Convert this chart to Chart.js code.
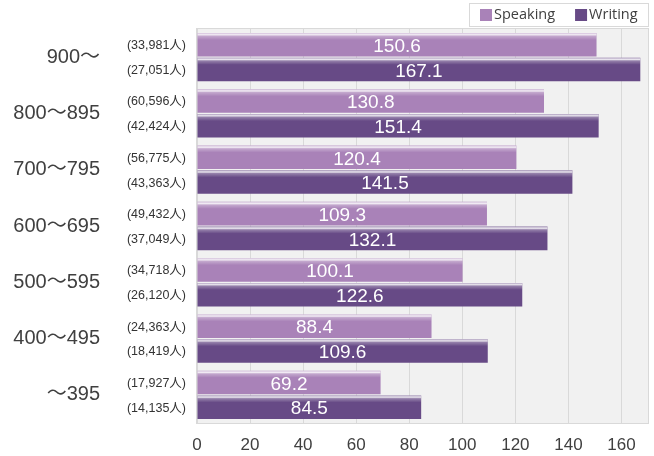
<!DOCTYPE html>
<html>
<head>
<meta charset="utf-8">
<script src="https://cdn.jsdelivr.net/npm/chart.js@4/dist/chart.umd.min.js"></script>
<style>
  html, body { margin: 0; padding: 0; background: #fff; }
  #wrap { width: 654px; height: 456px; }
</style>
</head>
<body>
<div id="wrap"><canvas id="chart_1" width="654" height="456"></canvas></div>
<script>
const categories = ["900～", "800～895", "700～795", "600～695", "500～595", "400～495", "～395"]
const speaking = [150.6, 130.8, 120.4, 109.3, 100.1, 88.4, 69.2]
const writing = [167.1, 151.4, 141.5, 132.1, 122.6, 109.6, 84.5]
const speaking_n = ["33,981", "60,596", "56,775", "49,432", "34,718", "24,363", "17,927"]
const writing_n = ["27,051", "42,424", "43,363", "37,049", "26,120", "18,419", "14,135"]
const counts = [speaking_n, writing_n]
const x_ticks = [0, 20, 40, 60, 80, 100, 120, 140, 160]

const font_main = "'Liberation Sans', Arial, 'Noto Sans CJK JP', sans-serif"
const font_legend = "'Open Sans', 'Noto Sans', sans-serif"

// plot background, border, bar highlight and labels
const deco = {
    id: "deco",
    beforeDraw(chart){
        const {ctx, chartArea: a} = chart
        ctx.save()
        ctx.fillStyle = "#f1f1f1"
        ctx.fillRect(a.left, a.top, a.right - a.left, a.bottom - a.top)
        ctx.restore()
    },
    afterDatasetsDraw(chart){
        const {ctx, chartArea: a} = chart
        ctx.save()
        ctx.strokeStyle = "#d9d9d9"
        ctx.lineWidth = 1
        ctx.strokeRect(a.left - 0.5, a.top - 0.5, a.right - a.left + 1, a.bottom - a.top + 1)

        chart.data.datasets.forEach((ds, di) => {
            const meta = chart.getDatasetMeta(di)
            meta.data.forEach((bar, i) => {
                const top = bar.y - bar.height / 2
                const left = Math.min(bar.x, bar.base)
                const w = Math.abs(bar.x - bar.base)
                // glossy top stripe
                const g = ctx.createLinearGradient(0, top, 0, top + 7)
                g.addColorStop(0, "rgba(255,255,255,0.5)")
                g.addColorStop(0.25, "rgba(255,255,255,0.85)")
                g.addColorStop(0.45, "rgba(255,255,255,0.3)")
                g.addColorStop(1, "rgba(255,255,255,0)")
                ctx.fillStyle = g
                ctx.fillRect(left, top, w, 7)

                // value inside bar
                ctx.fillStyle = "#ffffff"
                ctx.font = "19px " + font_main
                ctx.textAlign = "center"
                ctx.textBaseline = "middle"
                ctx.fillText(ds.data[i].toFixed(1), (bar.x + bar.base) / 2, bar.y + 2)

                // head count beside axis
                ctx.fillStyle = "#333333"
                ctx.font = "12.5px " + font_main
                ctx.textAlign = "right"
                ctx.fillText("(" + counts[di][i] + "人)", a.left - 11, bar.y + 1)
            })
        })

        // legend
        const lx = 469, ly = 3, lw = 179, lh = 23
        ctx.fillStyle = "#ffffff"
        ctx.fillRect(lx, ly, lw, lh)
        ctx.strokeStyle = "#d9d9d9"
        ctx.strokeRect(lx + 0.5, ly + 0.5, lw, lh)
        ctx.font = "14.5px " + font_legend
        ctx.textAlign = "left"
        ctx.textBaseline = "middle"
        let x = lx + 11
        chart.data.datasets.forEach(ds => {
            ctx.fillStyle = ds.backgroundColor
            ctx.fillRect(x, ly + 6, 12, 12)
            ctx.fillStyle = "#404040"
            ctx.fillText(ds.label, x + 14, ly + 12)
            x += 14 + ctx.measureText(ds.label).width + 20
        })
        ctx.restore()
    }
}

const ctx_1 = document.getElementById("chart_1").getContext("2d")
const chart_1 = new Chart(ctx_1, {
    type: "bar",
    data: {
        labels: categories,
        datasets: [
            {
                label: "Speaking",
                data: speaking,
                backgroundColor: "#a982b8",
                categoryPercentage: 0.88,
                barPercentage: 0.95
            },
            {
                label: "Writing",
                data: writing,
                backgroundColor: "#674a86",
                categoryPercentage: 0.88,
                barPercentage: 0.95
            }
        ]
    },
    options: {
        indexAxis: "y",
        responsive: false,
        animation: false,
        layout: { padding: { top: 29, right: 6, left: 0, bottom: 0 } },
        plugins: {
            legend: { display: false },
            tooltip: { enabled: false }
        },
        scales: {
            x: {
                min: 0,
                max: 170,
                afterBuildTicks(scale){ scale.ticks = x_ticks.map(v => ({value: v})) },
                ticks: {
                    autoSkip: false,
                    color: "#404040",
                    font: { size: 17, family: font_main },
                    padding: 12,
                    maxRotation: 0
                },
                grid: { color: "#d9d9d9", drawTicks: false },
                border: { color: "#d9d9d9" },
                afterFit(scale){ scale.height = 33; scale.paddingLeft = 0; scale.paddingRight = 0 }
            },
            y: {
                ticks: {
                    color: "#404040",
                    font: { size: 20, family: font_main },
                    padding: 97
                },
                grid: { display: false, drawTicks: false },
                border: { color: "#d9d9d9" },
                afterFit(scale){ scale.width = 197; scale.paddingTop = 0; scale.paddingBottom = 0 }
            }
        }
    },
    plugins: [deco]
})
</script>
</body>
</html>
